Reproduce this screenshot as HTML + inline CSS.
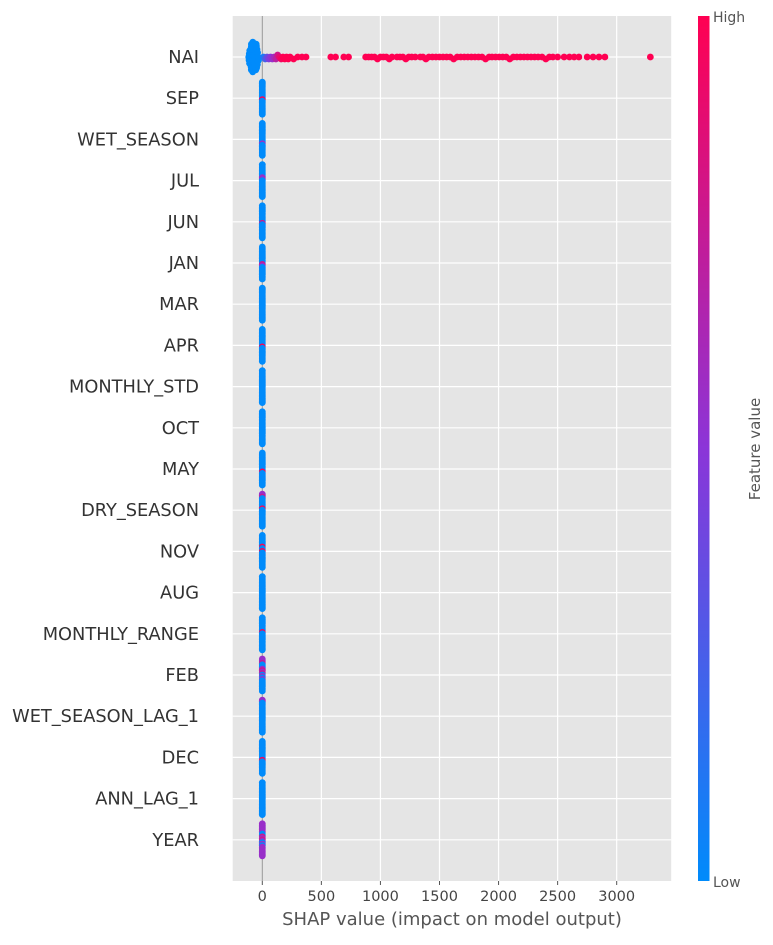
<!DOCTYPE html>
<html><head><meta charset="utf-8"><style>
body{margin:0;background:#fff;font-family:"Liberation Sans","DejaVu Sans",sans-serif}
svg text{font-family:"DejaVu Sans","Liberation Sans",sans-serif}
</style></head><body>
<svg id="chart" width="773" height="940" xmlns="http://www.w3.org/2000/svg">
<defs><linearGradient id="cg" x1="0" y1="1" x2="0" y2="0">
<stop offset="0" stop-color="#008bfb"/><stop offset="0.5" stop-color="#8b35d8"/><stop offset="1" stop-color="#ff0052"/></linearGradient></defs>
<g id="plot"></g>
</svg>
<script>
const features=["NAI","SEP","WET_SEASON","JUL","JUN","JAN","MAR","APR","MONTHLY_STD","OCT","MAY","DRY_SEASON","NOV","AUG","MONTHLY_RANGE","FEB","WET_SEASON_LAG_1","DEC","ANN_LAG_1","YEAR"];
const xTicks=[0,500,1000,1500,2000,2500,3000];
const naiLowShap=[-115,-112,-110,-108,-106,-104,-102,-100,-98,-96,-95,-94,-93,-92,-91,-90,-89,-88,-87,-86,-86,-85,-85,-84,-84,-83,-83,-82,-82,-81,-81,-80,-80,-79,-79,-78,-78,-77,-76,-75,-74,-73,-72,-70,-68,-66,-64,-62,-60,-58,-55,-52,-50,-48,-45,-42,-40,-38,-35,-32];
const naiMidShap=[10,25,40,55,70,85,100,115,130,145,160];
const naiMidVals=[0.1,0.25,0.35,0.45,0.5,0.55,0.6,0.7,0.8,0.9,0.95];
const naiHighShap=[175,190,205,220,235,265,300,336,370,580,620,690,730,875,900,925,950,975,1000,1025,1050,1075,1098,1140,1165,1190,1215,1240,1265,1295,1337,1360,1385,1410,1440,1470,1500,1530,1560,1590,1620,1650,1680,1710,1740,1770,1800,1830,1860,1890,1920,1945,1975,2005,2035,2065,2095,2125,2155,2185,2215,2245,2275,2305,2335,2368,2400,2430,2460,2500,2555,2600,2640,2680,2750,2800,2850,2900,3285];
// feature values per strip slot (0 = low, 5 = mid, 9 = high)
const stripVals=[
"","00000000000090000000000","00000000000000500000000","00000000055000000000000","00000000000070000000000",
"00000000000075000000000","00000000000000000000000","00000000000090000000000","00000000000000000000000","00000000000000000000000",
"00000000000009000000000","55700000009000000000000","00000000900900000000000","00000000000000000000000","00000000009000000000000",
"55570005757050500000000","55000000000000000000000","00000000000009000000000","00000000000000000000000","55555550075750505555555"];
const X0=262.3, XS=0.11813, Y0=57, DY=41.2;
const xs=v=>X0+v*XS, ys=i=>Y0+i*DY;
function col(t){const a=[0,139,251],m=[139,53,216],b=[255,0,82];let c0,c1,u;
 if(t<0.5){c0=a;c1=m;u=t/0.5}else{c0=m;c1=b;u=(t-0.5)/0.5}
 return `rgb(${c0.map((c,k)=>Math.round(c+(c1[k]-c)*u)).join(",")})`;}
const g=document.getElementById('plot');const NS="http://www.w3.org/2000/svg";
function el(t,a,p){const e=document.createElementNS(NS,t);for(const k in a)e.setAttribute(k,a[k]);(p||g).appendChild(e);return e;}
let e=el('rect',{x:232.7,y:16,width:438.5,height:865,fill:'#e5e5e5'});

xTicks.forEach(t=>{if(t===0)return;const l=el('line',{x1:xs(t),x2:xs(t),y1:16,y2:881,stroke:'#fff','stroke-width':1.2});
});
features.forEach((f,i)=>{const l=el('line',{x1:232.7,x2:671.2,y1:ys(i),y2:ys(i),stroke:'#fff','stroke-width':1.2});

const t=el('text',{x:199,y:ys(i)+6,'text-anchor':'end','font-size':17.8,fill:'#333'});t.textContent=f;
});
e=el('line',{x1:xs(0),x2:xs(0),y1:16,y2:881,stroke:'#999','stroke-width':1});

function dot(x,y,c,r){const d=el('circle',{cx:x,cy:y,r:r||3.4,fill:c});
}
function swarm(vals,cols,row,step,maxOff){const bins={};vals.forEach((v,k)=>{const x=xs(v);const b=Math.round(x/4);bins[b]=(bins[b]||0)+1;const n=bins[b]-1;
let off=Math.ceil(n/2)*step*(n%2?1:-1);while(Math.abs(off)>maxOff)off=off-(off>0?1:-1)*(2*maxOff-step);dot(x,ys(row)+off,cols[k]);});}
swarm(naiLowShap,naiLowShap.map(()=>col(0)),0,3.2,15);
swarm(naiMidShap,naiMidVals.map(col),0,2,4);
swarm(naiHighShap,naiHighShap.map(()=>col(1)),0,2,2);
for(let i=1;i<features.length;i++){const s=stripVals[i];const n=s.length;
 for(let k=0;k<n;k++){const v=+s[k]/9;dot(xs(0),ys(i)-16+k*32/(n-1),col(v),3.4);}}
xTicks.forEach(t=>{const l=el('line',{x1:xs(t),x2:xs(t),y1:881,y2:885,stroke:'#555'});

const tx=el('text',{x:xs(t),y:901,'text-anchor':'middle','font-size':14.5,fill:'#444'});tx.textContent=t;
});
e=el('text',{x:452,y:925,'text-anchor':'middle','font-size':18,fill:'#555'});e.textContent='SHAP value (impact on model output)';

e=el('rect',{x:698,y:16,width:11.5,height:865,fill:'url(#cg)'});

e=el('text',{x:713,y:22,'font-size':14,fill:'#555'});e.textContent='High';

e=el('text',{x:713,y:887,'font-size':14,fill:'#555'});e.textContent='Low';

e=el('text',{x:760,y:449,'font-size':15,fill:'#555','text-anchor':'middle',transform:'rotate(-90 760 449)'});e.textContent='Feature value';

</script>
</body></html>
